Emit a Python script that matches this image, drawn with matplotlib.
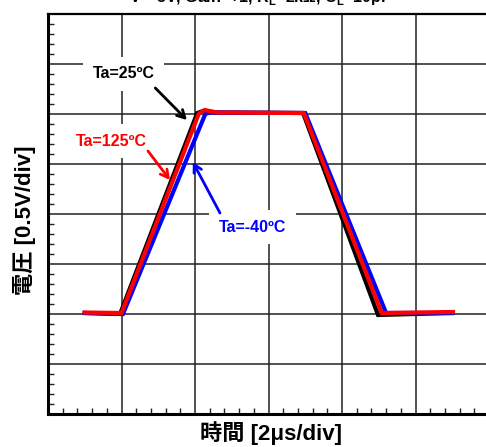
import matplotlib
matplotlib.use('Agg')
import matplotlib.pyplot as plt
from matplotlib.ticker import MultipleLocator

# time in 2us divisions, voltage in 0.5V divisions
time_25 = [0.5, 0.98, 2.03, 2.11, 2.3, 3.47, 4.49, 5.5]
volt_25 = [2.02, 2.0, 6.02, 6.06, 6.03, 6.02, 1.98, 2.02]
time_m40 = [0.5, 1.02, 2.14, 2.2, 3.5, 4.6, 5.5]
volt_m40 = [2.02, 2.0, 6.0, 6.03, 6.02, 2.02, 2.02]
time_125 = [0.5, 1.0, 2.05, 2.13, 2.3, 3.48, 4.54, 5.51]
volt_125 = [2.03, 2.02, 6.0, 6.08, 6.03, 6.02, 2.02, 2.04]

FONTS = ['Liberation Sans', 'Noto Sans CJK JP', 'DejaVu Sans']
plt.rcParams['font.family'] = FONTS
plt.rcParams['mathtext.fontset'] = 'custom'
plt.rcParams['mathtext.rm'] = 'Liberation Sans'
plt.rcParams['mathtext.bf'] = 'Liberation Sans:bold'

fig = plt.figure(figsize=(4.86, 4.47), dpi=100)
ax = fig.add_axes([48/486, 33/447, 441/486, 400/447])

ax.plot(time_25, volt_25, color='black', lw=3, solid_joinstyle='miter', zorder=3)
ax.plot(time_m40, volt_m40, color='#0000ff', lw=3, solid_joinstyle='miter', zorder=3)
ax.plot(time_125, volt_125, color='#ff0000', lw=3, solid_joinstyle='miter', zorder=4)

ax.set_xlim(0, 6)
ax.set_ylim(0, 8)
ax.xaxis.set_major_locator(MultipleLocator(1))
ax.yaxis.set_major_locator(MultipleLocator(1))
ax.xaxis.set_minor_locator(MultipleLocator(0.2))
ax.yaxis.set_minor_locator(MultipleLocator(0.2))
ax.grid(True, which='major', color='#222222', lw=1.1)
ax.tick_params(which='both', direction='in', labelbottom=False, labelleft=False)
ax.tick_params(which='minor', length=4, width=1, color='#222222')
ax.tick_params(which='major', length=0)
ax.spines['left'].set_linewidth(2.2)
ax.spines['bottom'].set_linewidth(2.2)
ax.spines['top'].set_linewidth(1.6)
ax.spines['right'].set_linewidth(1.6)

box = dict(facecolor='white', edgecolor='none', pad=7)
ax.text(1.03, 6.8, 'Ta=25ºC', color='black', fontsize=11.5, fontweight='bold',
        ha='center', va='center', bbox=box, zorder=5)
ax.text(0.86, 5.46, 'Ta=125ºC', color='#ff0000', fontsize=11.5, fontweight='bold',
        ha='center', va='center', bbox=box, zorder=5)
ax.text(2.78, 3.74, 'Ta=-40ºC', color='#0000ff', fontsize=11.5, fontweight='bold',
        ha='center', va='center', bbox=box, zorder=5)

arrow = dict(arrowstyle='->,head_length=0.55,head_width=0.3', lw=2, shrinkA=0, shrinkB=0)
ax.annotate('', xy=(1.89, 5.88), xytext=(1.46, 6.52),
            arrowprops=dict(arrow, color='black'), zorder=6)
ax.annotate('', xy=(1.66, 4.68), xytext=(1.36, 5.26),
            arrowprops=dict(arrow, color='#ff0000'), zorder=6)
ax.annotate('', xy=(1.97, 5.04), xytext=(2.34, 4.02),
            arrowprops=dict(arrow, color='#0000ff'), zorder=6)

# the reference image crops this condition line at the top edge
fig.text(0.535, 0.994, r'V$^{+}$=5V, Gain=+1, R$_{\mathbf{L}}$=2kΩ, C$_{\mathbf{L}}$=10pF',
         fontsize=11.5, fontweight='bold', ha='center', va='baseline')
fig.text(271/486, 1 - 433/447, '時間 [2μs/div]', fontsize=16, fontweight='bold',
         ha='center', va='center')
fig.text(25/486, 1 - 220/447, '電圧 [0.5V/div]', fontsize=16, fontweight='bold',
         ha='center', va='center', rotation=90)

fig.savefig('out.png', dpi=100)
